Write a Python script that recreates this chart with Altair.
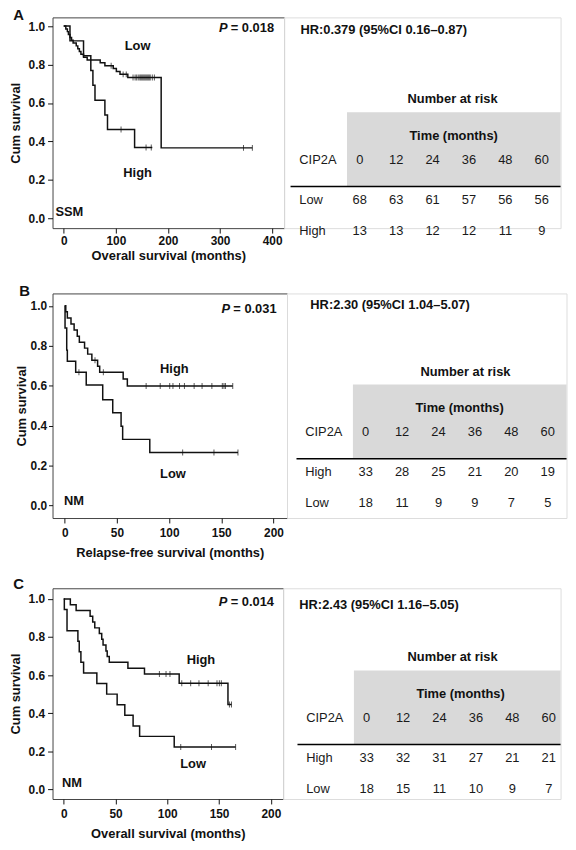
import altair as alt
import pandas as pd

FONT = "Liberation Sans"
INK = "#111111"

# ---------------- Panel A : SSM, overall survival ----------------
A_LOW_T = [0, 4, 7, 9, 12, 15, 18, 24, 27, 30, 33, 38, 45, 70, 79, 95, 101, 108, 123, 187, 362]
A_LOW_S = [1.0, 0.985, 0.971, 0.956, 0.941, 0.926, 0.912, 0.897, 0.882, 0.868, 0.853, 0.838,
           0.824, 0.809, 0.794, 0.779, 0.764, 0.749, 0.733, 0.367, 0.367]
A_LOW_CENS_T = [91, 114, 120, 133, 137, 140, 143, 146, 148, 150, 152, 154, 156, 158, 160, 162,
                164, 166, 170, 174, 345, 362]
A_LOW_CENS_S = [0.794, 0.749, 0.749, 0.733, 0.733, 0.733, 0.733, 0.733, 0.733, 0.733, 0.733,
                0.733, 0.733, 0.733, 0.733, 0.733, 0.733, 0.733, 0.733, 0.733, 0.367, 0.367]
A_HIGH_T = [0, 12, 38, 52, 56, 60, 79, 84, 136, 170]
A_HIGH_S = [1.0, 0.923, 0.846, 0.769, 0.692, 0.615, 0.538, 0.462, 0.369, 0.369]
A_HIGH_CENS_T = [110, 158, 168]
A_HIGH_CENS_S = [0.462, 0.369, 0.369]

# ---------------- Panel B : NM, relapse-free survival ----------------
B_HIGH_T = [0, 1, 2.5, 6, 9, 12, 14, 19, 22, 26, 31.5, 33.5, 56, 60, 161]
B_HIGH_S = [1.0, 0.970, 0.939, 0.909, 0.879, 0.848, 0.818, 0.788, 0.758, 0.727, 0.697, 0.667,
            0.633, 0.598, 0.598]
B_HIGH_CENS_T = [29, 37, 78, 91.5, 100.6, 103.7, 110, 114.7, 124, 131.6, 141, 151, 152.6, 154, 161]
B_HIGH_CENS_S = [0.727, 0.667, 0.598, 0.598, 0.598, 0.598, 0.598, 0.598, 0.598, 0.598, 0.598,
                 0.598, 0.598, 0.598, 0.598]
B_LOW_T = [0, 0.3, 1.9, 2.5, 10.5, 20.6, 36.4, 46, 54, 55.5, 81.5, 166]
B_LOW_S = [1.0, 0.889, 0.778, 0.722, 0.667, 0.603, 0.530, 0.464, 0.397, 0.331, 0.265, 0.265]
B_LOW_CENS_T = [13.6, 113, 143, 166]
B_LOW_CENS_S = [0.667, 0.265, 0.265, 0.265]

# ---------------- Panel C : NM, overall survival ----------------
C_HIGH_T = [0, 6.4, 12, 25.5, 28, 30, 34.4, 36.7, 38, 40.8, 42, 44, 62, 78, 111.5, 158.6, 162]
C_HIGH_S = [1.0, 0.970, 0.939, 0.909, 0.879, 0.848, 0.818, 0.788, 0.758, 0.727, 0.697, 0.667,
            0.636, 0.606, 0.557, 0.445, 0.445]
C_HIGH_CENS_T = [92.4, 98.8, 102.6, 114, 122.6, 130.6, 139.5, 148, 150.3, 152.2, 160, 162]
C_HIGH_CENS_S = [0.606, 0.606, 0.606, 0.557, 0.557, 0.557, 0.557, 0.557, 0.557, 0.557, 0.445, 0.445]
C_LOW_T = [0, 0.6, 3.2, 13.7, 15, 16.6, 19.2, 32, 41.5, 51.6, 59, 67, 73.3, 106.7, 166]
C_LOW_S = [1.0, 0.944, 0.833, 0.778, 0.722, 0.667, 0.611, 0.556, 0.5, 0.444, 0.389, 0.333,
           0.278, 0.222, 0.222]
C_LOW_CENS_T = [113, 142.7, 166]
C_LOW_CENS_S = [0.222, 0.222, 0.222]

# ---------------- Number-at-risk tables ----------------
TIMES = [0, 12, 24, 36, 48, 60]
A_TABLE_GROUPS = ["Low", "High"]
A_TABLE_ROWS = [[68, 63, 61, 57, 56, 56], [13, 13, 12, 12, 11, 9]]
B_TABLE_GROUPS = ["High", "Low"]
B_TABLE_ROWS = [[33, 28, 25, 21, 20, 19], [18, 11, 9, 9, 7, 5]]
C_TABLE_GROUPS = ["High", "Low"]
C_TABLE_ROWS = [[33, 32, 31, 27, 21, 21], [18, 15, 11, 10, 9, 7]]

A_HR = "HR:0.379 (95%CI 0.16\u20130.87)"
B_HR = "HR:2.30 (95%CI 1.04\u20135.07)"
C_HR = "HR:2.43 (95%CI 1.16\u20135.05)"
A_P, B_P, C_P = "0.018", "0.031", "0.014"


def km_chart(letter, curves, censors, labels, p_value, p_pos, xdom, xticks, ydom, width, height,
             xtitle, x_label_pad, x_title_pad, y_tick, y_label_pad, y_title_pad, letter_dx, letter_dy):
    xs = alt.Scale(domain=xdom, nice=False, zero=False)
    ys = alt.Scale(domain=ydom, nice=False, zero=False)
    x_axis = alt.Axis(values=xticks, format="d", title=xtitle, grid=False, domain=False,
                      tickSize=5, tickColor=INK, labelPadding=x_label_pad, titlePadding=x_title_pad,
                      labelFont=FONT, labelFontSize=12, labelFontWeight="bold", labelColor=INK,
                      titleFont=FONT, titleFontSize=13, titleFontWeight="bold", titleColor=INK,
                      labelFlush=False)
    y_axis = alt.Axis(values=[0, 0.2, 0.4, 0.6, 0.8, 1.0], format=".1f", title="Cum survival",
                      grid=False, domain=False, tickSize=y_tick, tickColor=INK,
                      labelPadding=y_label_pad, titlePadding=y_title_pad, labelFont=FONT,
                      labelFontSize=12, labelFontWeight="bold", labelColor=INK, titleFont=FONT,
                      titleFontSize=13, titleFontWeight="bold", titleColor=INK, labelFlush=False)
    line_df = pd.concat([pd.DataFrame({"t": t, "s": s, "grp": g}) for g, (t, s) in curves.items()])
    cens_df = pd.concat([pd.DataFrame({"t": t, "s": s, "grp": g}) for g, (t, s) in censors.items()])
    lab_df = pd.DataFrame(labels, columns=["t", "s", "label"])
    p_df = pd.DataFrame({"t": [p_pos[0]], "s": [p_pos[1]], "rest": ["= " + p_value], "p": ["P"]})

    lines = alt.Chart(line_df).mark_line(interpolate="step-after", color=INK, strokeWidth=1.5).encode(
        x=alt.X("t:Q", scale=xs, axis=x_axis),
        y=alt.Y("s:Q", scale=ys, axis=y_axis),
        detail="grp:N",
    )
    ticks = alt.Chart(cens_df).mark_tick(orient="vertical", size=6, thickness=1, color=INK).encode(
        x=alt.X("t:Q", scale=xs), y=alt.Y("s:Q", scale=ys))
    texts = alt.Chart(lab_df).mark_text(font=FONT, fontSize=13, fontWeight="bold", color=INK,
                                        baseline="middle").encode(
        x=alt.X("t:Q", scale=xs), y=alt.Y("s:Q", scale=ys), text="label:N")
    p_rest = alt.Chart(p_df).mark_text(font=FONT, fontSize=13, fontWeight="bold", color=INK,
                                       align="right", baseline="middle").encode(
        x=alt.X("t:Q", scale=xs), y=alt.Y("s:Q", scale=ys), text="rest:N")
    p_it = alt.Chart(p_df).mark_text(font=FONT, fontSize=13, fontWeight="bold", fontStyle="italic",
                                     color=INK, align="right", baseline="middle", dx=-47).encode(
        x=alt.X("t:Q", scale=xs), y=alt.Y("s:Q", scale=ys), text="p:N")
    return alt.layer(lines, ticks, texts, p_rest, p_it).properties(
        width=width, height=height,
        view=alt.ViewBackground(stroke="#444444", strokeWidth=1),
        title=alt.TitleParams(text=letter, anchor="start", frame="bounds", orient="top", offset=0,
                              dx=letter_dx, dy=letter_dy, baseline="alphabetic", font=FONT,
                              fontSize=15, fontWeight="bold", color=INK),
    )


COL_W = 36.8          # pixel width of one time column in the tables
LABEL_COL = -1.66     # position of row label column (in column units)
RULE_COL = -1.9
RECT_COL = -0.35
TIME_COL = 2.58


def table_chart(hr_text, groups, rows, width, height, origin_px, col0_px, hr_col, hr_y, nar_col, block_y):
    c_left = (origin_px - col0_px) / COL_W
    c_right = c_left + width / COL_W
    xs = alt.Scale(domain=[c_left, c_right], nice=False, zero=False)
    ys = alt.Scale(domain=[0, height], nice=False, zero=False, reverse=True)
    X = lambda f: alt.X(f, scale=xs, axis=None)
    Y = lambda f: alt.Y(f, scale=ys, axis=None)

    rect = alt.Chart(pd.DataFrame({"x": [RECT_COL], "x2": [c_right], "y": [block_y + 13],
                                   "y2": [block_y + 88]})).mark_rect(color="#d9d9d9").encode(
        x=X("x:Q"), x2="x2:Q", y=Y("y:Q"), y2="y2:Q")
    rule = alt.Chart(pd.DataFrame({"x": [RULE_COL], "x2": [c_right], "y": [block_y + 88]})).mark_rule(
        color="#000000", strokeWidth=1.5).encode(x=X("x:Q"), x2="x2:Q", y=Y("y:Q"))

    bold_df = pd.DataFrame({"x": [nar_col, TIME_COL], "y": [block_y, block_y + 37],
                            "text": ["Number at risk", "Time (months)"]})
    bold = alt.Chart(bold_df).mark_text(font=FONT, fontSize=13, fontWeight="bold", color=INK,
                                        baseline="middle").encode(x=X("x:Q"), y=Y("y:Q"), text="text:N")
    hr = alt.Chart(pd.DataFrame({"x": [hr_col], "y": [hr_y], "text": [hr_text]})).mark_text(
        font=FONT, fontSize=13, fontWeight="bold", color=INK, align="left", baseline="middle").encode(
        x=X("x:Q"), y=Y("y:Q"), text="text:N")

    left_df = pd.DataFrame({"x": [LABEL_COL] * 3,
                            "y": [block_y + 61, block_y + 102, block_y + 133],
                            "text": ["CIP2A"] + groups})
    left = alt.Chart(left_df).mark_text(font=FONT, fontSize=13, color="#1a1a1a", align="left",
                                        baseline="middle").encode(x=X("x:Q"), y=Y("y:Q"), text="text:N")
    cells = []
    for i, t in enumerate(TIMES):
        cells.append({"x": i, "y": block_y + 61, "text": str(t)})
    for r, vals in enumerate(rows):
        for i, v in enumerate(vals):
            cells.append({"x": i, "y": block_y + 102 + 31 * r, "text": str(v)})
    cell = alt.Chart(pd.DataFrame(cells)).mark_text(font=FONT, fontSize=13, color="#1a1a1a",
                                                    baseline="middle").encode(
        x=X("x:Q"), y=Y("y:Q"), text="text:N")
    return alt.layer(rect, rule, bold, hr, left, cell).properties(width=width, height=height)


HA, HB, HC = 213, 227, 213
WA, WB, WC = 234, 237, 233
FA, FB, FC = 52.5, 46.5, 52.5      # left edge of each plot frame

kmA = km_chart("A", {"low": (A_LOW_T, A_LOW_S), "high": (A_HIGH_T, A_HIGH_S)},
               {"low": (A_LOW_CENS_T, A_LOW_CENS_S), "high": (A_HIGH_CENS_T, A_HIGH_CENS_S)},
               [(141.8, 0.894, "Low"), (141.8, 0.237, "High"), (10.8, 0.035, "SSM")],
               A_P, (403.6, 0.99), [-21.5, 422.8], [0, 100, 200, 300, 400], [-0.05, 1.045],
               WA, HA, "Overall survival (months)", 3, 3, 5, 3, 6, 4, 18)
kmB = km_chart("B", {"low": (B_LOW_T, B_LOW_S), "high": (B_HIGH_T, B_HIGH_S)},
               {"low": (B_LOW_CENS_T, B_LOW_CENS_S), "high": (B_HIGH_CENS_T, B_HIGH_CENS_S)},
               [(105, 0.685, "High"), (103.7, 0.157, "Low"), (8.9, 0.024, "NM")],
               B_P, (203, 0.984), [-11.7, 213], [0, 50, 100, 150, 200], [-0.063, 1.062],
               WB, HB, "Relapse-free survival (months)", 5, 8, 4, 2, 2, 4, 18)
kmC = km_chart("C", {"low": (C_LOW_T, C_LOW_S), "high": (C_HIGH_T, C_HIGH_S)},
               {"low": (C_LOW_CENS_T, C_LOW_CENS_S), "high": (C_HIGH_CENS_T, C_HIGH_CENS_S)},
               [(132.5, 0.678, "High"), (124.9, 0.133, "Low"), (8, 0.031, "NM")],
               C_P, (203, 0.986), [-10.8, 211.8], [0, 50, 100, 150, 200], [-0.051, 1.056],
               WC, HC, "Overall survival (months)", 5, 8, 5, 3, 6, 4, 16)

oA = FA + WA
oB = FB + WB
oC = FC + WC
tabA = table_chart(A_HR, A_TABLE_GROUPS, A_TABLE_ROWS, 566 - oA, HA, oA, 363, -1.63, 13, 2.55, 83)
tabB = table_chart(B_HR, B_TABLE_GROUPS, B_TABLE_ROWS, 566 - oB, HB, oB, 363, -1.52, 12, 2.74, 79)
tabC = table_chart(C_HR, C_TABLE_GROUPS, C_TABLE_ROWS, 566 - oC, HC, oC, 370, -1.85, 17, 2.36, 70)

rowA = alt.hconcat(kmA, tabA, spacing=0, bounds="flush")
rowB = alt.hconcat(kmB, tabB, spacing=0, bounds="flush")
rowC = alt.hconcat(kmC, tabC, spacing=0, bounds="flush")

top = alt.vconcat(rowA, rowB, spacing=20)
chart = alt.vconcat(top, rowC, spacing=16).properties(
    padding={"left": 0, "top": -5, "right": 0, "bottom": 0}
).configure_view(strokeWidth=0).configure(font=FONT, background="white")

chart.save("out.html", embed_options={"renderer": "svg", "actions": False})
